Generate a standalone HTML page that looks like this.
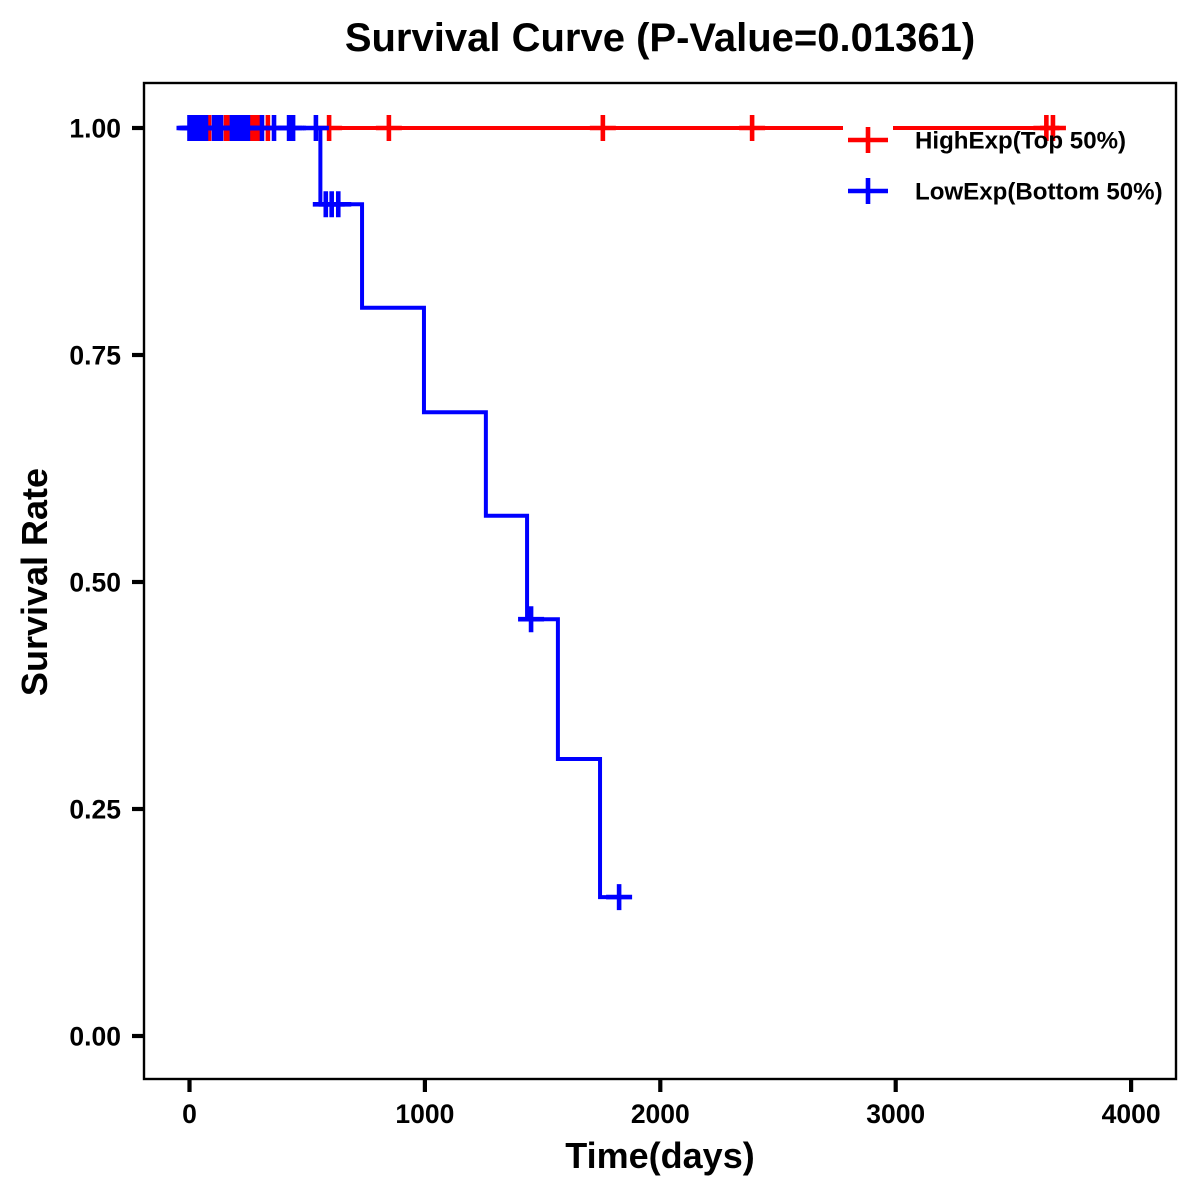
<!DOCTYPE html>
<html>
<head>
<meta charset="utf-8">
<title>Survival Curve</title>
<style>
html,body{margin:0;padding:0;background:#fff;}
svg{display:block;}
text{font-family:"Liberation Sans",Arial,sans-serif;font-weight:bold;fill:#000;}
</style>
</head>
<body>
<svg id="chart" width="1200" height="1200" viewBox="0 0 1200 1200" xmlns="http://www.w3.org/2000/svg">
  <rect x="0" y="0" width="1200" height="1200" fill="#fff"/>
  <text x="660" y="51" font-size="40" text-anchor="middle">Survival Curve (P-Value=0.01361)</text>
  <text x="660" y="1168" font-size="36" text-anchor="middle">Time(days)</text>
  <text x="0" y="0" font-size="36" text-anchor="middle" transform="translate(47 582) rotate(-90)">Survival Rate</text>
  <g id="marks"></g>
  <g id="axes"></g>
  <rect x="144" y="83" width="1032" height="996" fill="none" stroke="#000" stroke-width="2.4"/>
  <g id="legend"></g>
</svg>
<script>
const xTicks = [0, 1000, 2000, 3000, 4000];
const yTicks = [0, 0.25, 0.5, 0.75, 1];
const yTickLabels = ['0.00', '0.25', '0.50', '0.75', '1.00'];

const highTimes = [3710];
const highSurvival = [1];
const highCensorTimes = [83, 155, 161, 265, 278, 291, 333, 593, 847, 1756, 2390, 3640, 3668];
const highCensorSurvival = [1, 1, 1, 1, 1, 1, 1, 1, 1, 1, 1, 1, 1];

const lowTimes = [556, 733, 996, 1259, 1434, 1565, 1744, 1825];
const lowSurvival = [0.916, 0.802, 0.687, 0.573, 0.459, 0.305, 0.153, 0.153];
const lowCensorTimes = [0, 8, 16, 24, 32, 40, 48, 56, 64, 70, 104, 112, 120, 128, 134, 180, 188, 196, 204, 212, 220, 228, 236, 244, 248, 308, 359, 423, 432, 440, 537, 579, 604, 632, 1451, 1825];
const lowCensorSurvival = [1, 1, 1, 1, 1, 1, 1, 1, 1, 1, 1, 1, 1, 1, 1, 1, 1, 1, 1, 1, 1, 1, 1, 1, 1, 1, 1, 1, 1, 1, 1, 0.916, 0.916, 0.916, 0.459, 0.153];

const legendLabels = ['HighExp(Top 50%)', 'LowExp(Bottom 50%)'];
const seriesColors = ['#ff0000', '#0000ff'];

const SVGNS = 'http://www.w3.org/2000/svg';
function xScale(d) { return 189.5 + d * 0.23540; }
function yScale(s) { return 1036 - s * 908; }

function svgEl(tag, attrs, parent) {
  const el = document.createElementNS(SVGNS, tag);
  for (const k in attrs) el.setAttribute(k, attrs[k]);
  parent.appendChild(el);
  return el;
}

const marks = document.getElementById('marks');
const axes = document.getElementById('axes');
const legend = document.getElementById('legend');

function stepPath(times, surv) {
  let d = 'M' + xScale(0) + ' ' + yScale(1);
  for (let i = 0; i < times.length; i++) {
    d += 'H' + xScale(times[i]);
    d += 'V' + yScale(surv[i]);
  }
  return d;
}

function drawCensor(cx, cy, color, g, armX, armY) {
  return svgEl('path', { d: 'M' + (cx - armX) + ' ' + cy + 'H' + (cx + armX) + 'M' + cx + ' ' + (cy - armY) + 'V' + (cy + armY), stroke: color, 'stroke-width': 4.6, fill: 'none' }, g);
}

function drawSeries(name, times, surv, cTimes, cSurv, color) {
  const g = svgEl('g', {}, marks);
  
  
  const line = svgEl('path', { d: stepPath(times, surv), fill: 'none', stroke: color, 'stroke-width': 4, 'stroke-linejoin': 'miter' }, g);
  
  
  for (let i = 0; i < cTimes.length; i++) {
    const c = drawCensor(xScale(cTimes[i]), yScale(cSurv[i]), color, g, 13, 13);
    
    
  }
}

drawSeries('high-exp', highTimes, highSurvival, highCensorTimes, highCensorSurvival, seriesColors[0]);
drawSeries('low-exp', lowTimes, lowSurvival, lowCensorTimes, lowCensorSurvival, seriesColors[1]);

xTicks.forEach(function (t) {
  const tick = svgEl('line', { x1: xScale(t), x2: xScale(t), y1: 1079, y2: 1092, stroke: '#000', 'stroke-width': 4.2 }, axes);
  
  
  const label = svgEl('text', { x: xScale(t), y: 1123, 'font-size': 26.5, 'text-anchor': 'middle' }, axes);
  label.textContent = String(t);
  
  
});

yTicks.forEach(function (v, i) {
  const tick = svgEl('line', { x1: 132, x2: 144, y1: yScale(v), y2: yScale(v), stroke: '#000', 'stroke-width': 4.2 }, axes);
  
  
  const label = svgEl('text', { x: 121, y: yScale(v) + 9.5, 'font-size': 26.5, 'text-anchor': 'end' }, axes);
  label.textContent = yTickLabels[i];
  
  
});

legendLabels.forEach(function (lab, i) {
  const cy = 140 + i * 51;
  const bg = svgEl('rect', { x: 843, y: cy - 25, width: 50, height: 50, fill: '#fff' }, legend);
  
  
  const key = svgEl('path', { d: 'M848 ' + cy + 'H888M868 ' + (cy - 13) + 'V' + (cy + 13), stroke: seriesColors[i], 'stroke-width': 4.6, fill: 'none' }, legend);
  
  
  const t = svgEl('text', { x: 915, y: cy + 8.5, 'font-size': 24.1 }, legend);
  t.textContent = lab;
  
  
});
</script>
</body>
</html>
